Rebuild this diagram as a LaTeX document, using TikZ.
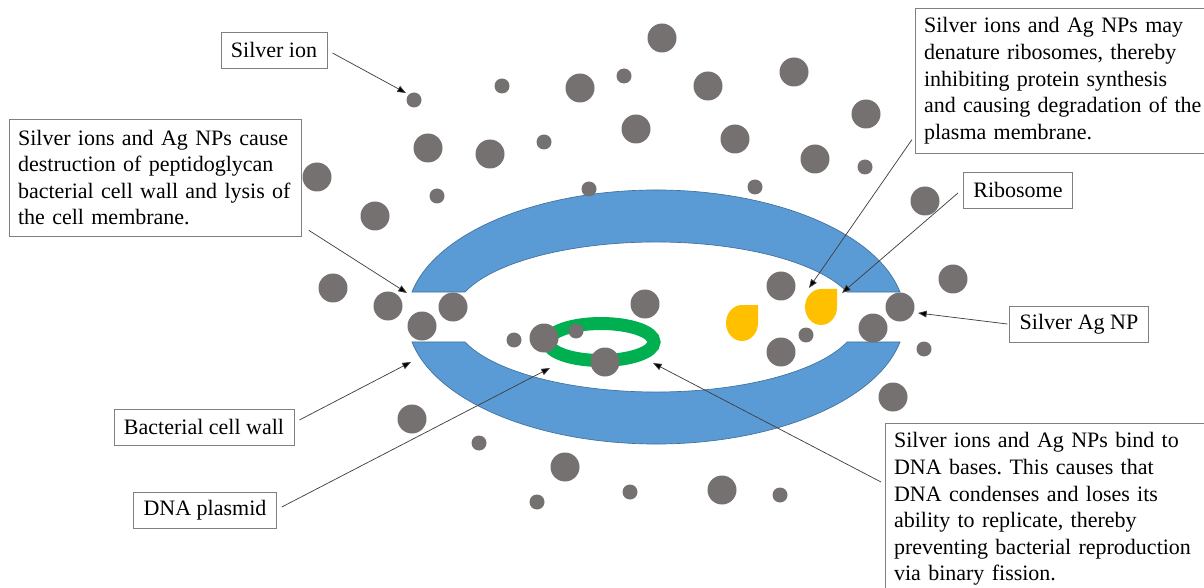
\documentclass[tikz,border=0pt]{standalone}
\usepackage{fontspec}
\setmainfont{Liberation Serif}
\usetikzlibrary{arrows.meta,calc}
\definecolor{WallBlue}{RGB}{91,155,213}
\definecolor{WallEdge}{RGB}{65,113,156}
\definecolor{PlasmidGreen}{RGB}{0,176,80}
\definecolor{RiboGold}{RGB}{255,192,0}
\definecolor{IonGray}{RGB}{118,113,113}
\definecolor{BoxGray}{RGB}{128,128,128}
\definecolor{LineGray}{RGB}{64,64,64}
\frenchspacing
\newcommand{\notefont}{\fontsize{16.5}{19.9}\selectfont}
\tikzset{
  notebox/.style={draw=BoxGray,fill=white,line width=0.6pt,align=left,
    inner xsep=6.5pt,inner ysep=7pt,font=\notefont},
  labelbox/.style={draw=BoxGray,fill=white,line width=0.6pt,
    inner xsep=7.5pt,minimum height=27pt,font=\notefont},
  pointer/.style={draw=LineGray,line width=0.55pt,
    -{Triangle[length=6.5pt,width=5pt,fill=black]}},
  wall/.style={fill=WallBlue,draw=WallEdge,line width=0.5pt},
  bigion/.style={fill=IonGray},
  ribo/.pic={
    \fill[RiboGold] (16,-18) -- (0,-18)
      arc[start angle=-90,end angle=-360,x radius=16,y radius=18] -- cycle;
  },
}

\begin{document}
\begin{tikzpicture}[x=0.75pt,y=-0.75pt]
  \useasboundingbox (0,0) rectangle (1204,588);

  % cell wall, split at the lysis gap
  \coordinate (cell) at (656,317);
  \path[wall] ($(cell)+(-11.35:248.9 and 127)$)
    arc[start angle=-11.35,end angle=-168.65,x radius=248.9,y radius=127]
    -- ($(cell)+(-160.53:202.6 and 75)$)
    arc[start angle=-160.53,end angle=-19.47,x radius=202.6,y radius=75]
    -- cycle;
  \path[wall] ($(cell)+(11.35:248.9 and 127)$)
    arc[start angle=11.35,end angle=168.65,x radius=248.9,y radius=127]
    -- ($(cell)+(160.53:202.6 and 75)$)
    arc[start angle=160.53,end angle=19.47,x radius=202.6,y radius=75]
    -- cycle;

  % plasmid and ribosomes
  \draw[PlasmidGreen,line width=9.75pt] (601,342) ellipse[x radius=53,y radius=18.5];
  \pic at (742,323) {ribo};
  \pic at (821,307) {ribo};

  % silver ions and nanoparticles
  \foreach \x/\y in {662/38,580/88,708/86,794/72,428/148,490/154,636/129,
      735/139,815/159,866/114,317/177,375/216,925/201,953/279,333/288,
      388/306,453/307,422/326,645/304,781/286,900/307,873/328,544/338,
      605/362,781/352,893/397,412/419,565/467,722/490}
    \fill[bigion] (\x,\y) circle[radius=14.5];
  \foreach \x/\y in {414/100,624/76,502/86,544/142,865/167,437/196,589/189,
      755/187,514/340,576/331,806/335,924/349,479/443,537/502,630/492,780/495}
    \fill[bigion] (\x,\y) circle[radius=7.5];

  % labels
  \node[labelbox] (ionbox) at (274,50) {Silver ion};
  \node[notebox,text width=206pt,inner ysep=8pt,anchor=north west] (wallnote) at (9,119)
    {Silver ions and Ag NPs cause\\ destruction of peptidoglycan\\
     bacterial cell wall and lysis of\\ the cell membrane.};
  \node[notebox,text width=220pt,anchor=north west] (ribonote) at (915,8)
    {Silver ions and Ag NPs may\\ denature ribosomes, thereby\\
     inhibiting protein synthesis\\ and causing degradation of the\\
     plasma membrane.};
  \node[labelbox] (ribobox) at (1018,190) {Ribosome};
  \node[labelbox] (npbox) at (1079,324) {Silver Ag NP};
  \node[labelbox] (wallbox) at (204,427) {Bacterial cell wall};
  \node[labelbox] (dnabox) at (205,510) {DNA plasmid};
  \node[notebox,text width=235pt,anchor=north west] (dnanote) at (885,423)
    {Silver ions and Ag NPs bind to\\ DNA bases. This causes that\\
     DNA condenses and loses its\\ ability to replicate, thereby\\
     preventing bacterial reproduction\\ via binary fission.};

  % pointers
  \coordinate (ionTip) at (406,93);
  \coordinate (gapTip) at (407,293);
  \coordinate (wallTip) at (411,362);
  \coordinate (ringTip) at (550,368);
  \coordinate (bindTip) at (653,363);
  \coordinate (denatTip) at (809,288);
  \coordinate (riboTip) at (842,293);
  \coordinate (npTip) at (918,313);
  \draw[pointer] ([xshift=3.75pt,yshift=-2.25pt]ionbox.east) -- (ionTip);
  \draw[pointer] ([xshift=5.25pt,yshift=4.5pt]wallnote.south east) -- (gapTip);
  \draw[pointer] ([xshift=3.75pt,yshift=5.25pt]wallbox.east) -- (wallTip);
  \draw[pointer] ([xshift=3.75pt,yshift=2.25pt]dnabox.east) -- (ringTip);
  \draw[pointer] ([xshift=-3pt,yshift=-44.25pt]dnanote.north west) -- (bindTip);
  \draw[pointer] ([xshift=-2.25pt,yshift=10.5pt]ribonote.south west) -- (denatTip);
  \draw[pointer] ([xshift=-3.75pt,yshift=-2.25pt]ribobox.west) -- (riboTip);
  \draw[pointer] ([xshift=-1.5pt]npbox.west) -- (npTip);
\end{tikzpicture}
\end{document}
